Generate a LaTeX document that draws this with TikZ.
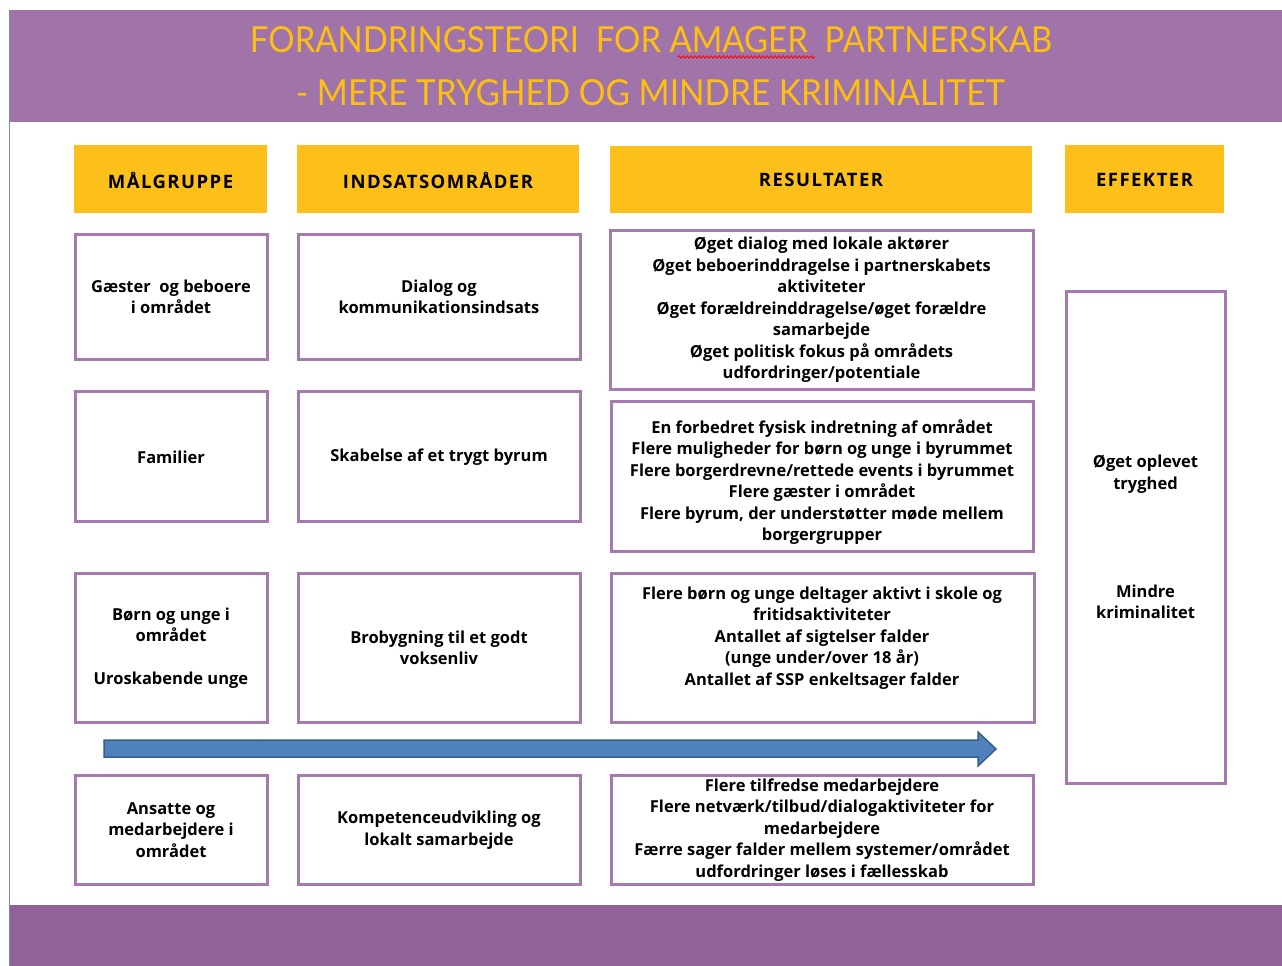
\documentclass[tikz,border=0pt]{standalone}
\usepackage{fontspec}
\setmainfont{Open Sans}
\newfontfamily\titlefont{Lato}
\usetikzlibrary{decorations.pathmorphing}
\definecolor{bandtop}{HTML}{A074A8}
\definecolor{bandbot}{HTML}{93619A}
\definecolor{gold}{HTML}{FCBF12}
\definecolor{hdr}{HTML}{FDC01A}
\definecolor{boxline}{HTML}{A67AB1}
\definecolor{arrfill}{HTML}{4F81BD}
\definecolor{arrline}{HTML}{385D8A}
\definecolor{edge}{HTML}{6A8CC8}
\tikzset{
  hdrbox/.style={fill=hdr, draw=none},
  hdrtext/.style={font=\fontsize{18.5}{20}\selectfont\bfseries\addfontfeatures{LetterSpace=8}, text=black},
  cellbox/.style={draw=boxline, line width=3pt, fill=white},
  celltext/.style={align=center, font=\fontsize{16.5}{21.5}\selectfont\bfseries, text=black, inner sep=0pt},
}
\begin{document}
\begin{tikzpicture}[x=1pt,y=-1pt]
\useasboundingbox (0,0) rectangle (1282,966);
\fill[white] (0,0) rectangle (1282,966);
% bands
\fill[bandtop] (9,10) rectangle (1282,122);
\fill[bandbot] (9,905) rectangle (1282,966);
\draw[edge, line width=1pt] (9,10) -- (9,966);
% title
\node[text=gold, inner sep=0pt, font=\titlefont] (t1) at (651,40) {\resizebox{802pt}{26pt}{FORANDRINGSTEORI\ \ FOR AMAGER\ \ PARTNERSKAB}};
\node[text=gold, inner sep=0pt, font=\titlefont] (t2) at (650.5,93) {\resizebox{709pt}{26pt}{- MERE TRYGHED OG MINDRE KRIMINALITET}};
\draw[red, line width=0.8pt, decorate, decoration={snake, amplitude=1.2pt, segment length=4pt}] (678,57) -- (815,57);
% headers
\fill[hdrbox] (74,145) rectangle (267,213);
\node[hdrtext] (h1) at (170.5,180) {MÅLGRUPPE};
\fill[hdrbox] (297,145) rectangle (579,213);
\node[hdrtext] (h2) at (438,180) {INDSATSOMRÅDER};
\fill[hdrbox] (610,146) rectangle (1032,213);
\node[hdrtext] (h3) at (821,180) {RESULTATER};
\fill[hdrbox] (1065,145) rectangle (1224,213);
\node[hdrtext] (h4) at (1144.5,180) {EFFEKTER};
% row 1
\draw[cellbox] (75,234) rectangle (267,359);
\node[celltext] (a1) at (171,297) {Gæster\ \ og beboere\\i området};
\draw[cellbox] (298,234) rectangle (580,359);
\node[celltext] (b1) at (439,297) {Dialog og\\kommunikationsindsats};
\draw[cellbox] (610,230) rectangle (1033,389);
\node[celltext] (c1) at (821.5,310) {Øget dialog med lokale aktører\\Øget beboerinddragelse i partnerskabets\\aktiviteter\\Øget forældreinddragelse/øget forældre\\samarbejde\\Øget politisk fokus på områdets\\udfordringer/potentiale};
% row 2
\draw[cellbox] (75,391) rectangle (267,521);
\node[celltext] (a2) at (171,457) {Familier};
\draw[cellbox] (298,391) rectangle (580,521);
\node[celltext] (b2) at (439,457) {Skabelse af et trygt byrum};
\draw[cellbox] (611,401) rectangle (1033,551);
\node[celltext] (c2) at (822,482) {En forbedret fysisk indretning af området\\Flere muligheder for børn og unge i byrummet\\Flere borgerdrevne/rettede events i byrummet\\Flere gæster i området\\Flere byrum, der understøtter møde mellem\\borgergrupper};
% row 3
\draw[cellbox] (75,573) rectangle (267,722);
\node[celltext] (a3) at (171,648) {Børn og unge i\\området\\[21.5pt]Uroskabende unge};
\draw[cellbox] (298,573) rectangle (580,722);
\node[celltext] (b3) at (439,648) {Brobygning til et godt\\voksenliv};
\draw[cellbox] (611,573) rectangle (1034,722);
\node[celltext] (c3) at (822,638) {Flere børn og unge deltager aktivt i skole og\\fritidsaktiviteter\\Antallet af sigtelser falder\\(unge under/over 18 år)\\Antallet af SSP enkeltsager falder};
% row 4
\draw[cellbox] (75,775) rectangle (267,884);
\node[celltext] (a4) at (171,830) {Ansatte og\\medarbejdere i\\området};
\draw[cellbox] (298,775) rectangle (580,884);
\node[celltext] (b4) at (439,830) {Kompetenceudvikling og\\lokalt samarbejde};
\draw[cellbox] (611,775) rectangle (1033,884);
\node[celltext] (c4) at (822,830) {Flere tilfredse medarbejdere\\Flere netværk/tilbud/dialogaktiviteter for\\medarbejdere\\Færre sager falder mellem systemer/området\\udfordringer løses i fællesskab};
% effects
\draw[cellbox] (1066,291) rectangle (1225,783);
\node[celltext] (e1) at (1145.5,474) {Øget oplevet\\tryghed};
\node[celltext] (e2) at (1145.5,602) {Mindre\\kriminalitet};
% big arrow
\draw[fill=arrfill, draw=arrline, line width=1.5pt, line join=miter]
  (104,740) -- (978,740) -- (978,732) -- (996,749) -- (978,766) -- (978,757) -- (104,757) -- cycle;
\end{tikzpicture}
\end{document}
